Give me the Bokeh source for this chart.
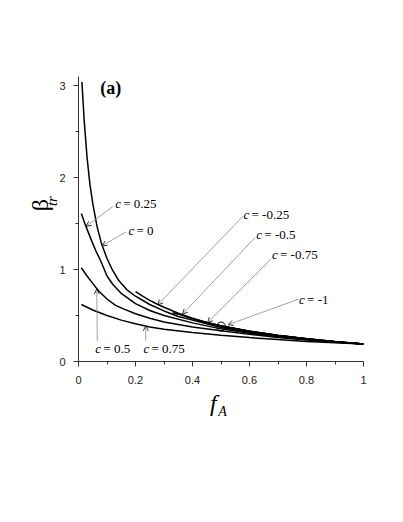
import numpy as np
from bokeh.plotting import figure
from bokeh.models import Label, Arrow, OpenHead, ColumnDataSource, FixedTicker, LinearAxis
from bokeh.embed import file_html
from bokeh.resources import INLINE

# ---- data ----
f_c0 = [0.012, 0.02, 0.03, 0.04, 0.05, 0.065, 0.08, 0.1, 0.12, 0.142, 0.17, 0.2, 0.25, 0.3, 0.35, 0.4, 0.5, 0.6, 0.7, 0.8, 0.9, 1.0]
b_c0 = [3.04, 2.62, 2.22, 1.93, 1.72, 1.47, 1.29, 1.12, 0.99, 0.877, 0.78, 0.71, 0.62, 0.55, 0.49, 0.45, 0.37, 0.317, 0.277, 0.244, 0.215, 0.19]

f_c025 = [0.01, 0.02, 0.03, 0.045, 0.06, 0.08, 0.1, 0.12, 0.15, 0.2, 0.25, 0.3, 0.4, 0.5, 0.6, 0.7, 0.8, 0.9, 1.0]
b_c025 = [1.61, 1.52, 1.44, 1.32, 1.21, 1.08, 0.93, 0.84, 0.74, 0.63, 0.555, 0.5, 0.42, 0.355, 0.308, 0.27, 0.24, 0.213, 0.19]

f_c05 = [0.01, 0.03, 0.05, 0.07, 0.1, 0.13, 0.16, 0.2, 0.25, 0.3, 0.4, 0.5, 0.6, 0.7, 0.8, 0.9, 1.0]
b_c05 = [1.02, 0.93, 0.85, 0.77, 0.68, 0.61, 0.57, 0.52, 0.47, 0.43, 0.375, 0.335, 0.295, 0.262, 0.234, 0.21, 0.19]

f_c075 = [0.01, 0.05, 0.1, 0.15, 0.2, 0.25, 0.3, 0.4, 0.5, 0.6, 0.7, 0.8, 0.9, 1.0]
b_c075 = [0.62, 0.56, 0.5, 0.45, 0.41, 0.375, 0.35, 0.315, 0.285, 0.26, 0.238, 0.218, 0.203, 0.19]

f_cm025 = [0.2, 0.225, 0.25, 0.275, 0.3, 0.35, 0.4, 0.45, 0.5, 0.6, 0.7, 0.8, 0.9, 1.0]
b_cm025 = [0.76, 0.71, 0.665, 0.625, 0.59, 0.525, 0.47, 0.425, 0.39, 0.33, 0.285, 0.248, 0.217, 0.19]

f_cm05 = [0.33, 0.35, 0.4, 0.45, 0.5, 0.6, 0.7, 0.8, 0.9, 1.0]
b_cm05 = [0.53, 0.515, 0.465, 0.422, 0.386, 0.328, 0.284, 0.247, 0.216, 0.19]

f_cm075 = [0.42, 0.45, 0.5, 0.6, 0.7, 0.8, 0.9, 1.0]
b_cm075 = [0.45, 0.425, 0.387, 0.328, 0.284, 0.247, 0.216, 0.19]

f_cm1 = [0.5, 0.6, 0.7, 0.8, 0.9, 1.0]
b_cm1 = [0.383, 0.328, 0.284, 0.247, 0.216, 0.19]

circle_f = [0.5]
circle_b = [0.38]

x_ticks = [0, 0.2, 0.4, 0.6, 0.8, 1.0]
x_tick_labels = ["0", "0.2", "0.4", "0.6", "0.8", "1"]
x_minor = [0.1, 0.3, 0.5, 0.7, 0.9]
y_ticks = [0, 1, 2, 3]
y_tick_labels = ["0", "1", "2", "3"]
y_minor = [0.5, 1.5, 2.5]

# annotation labels: text, label position, arrow tail, arrow tip
ann_text = ["= 0.25", "= 0", "= 0.5", "= 0.75", "= -0.25", "= -0.5", "= -0.75", "= -1"]
ann_lx = [0.129, 0.175, 0.059, 0.228, 0.579, 0.624, 0.679, 0.774]
ann_ly = [1.72, 1.42, 0.143, 0.143, 1.60, 1.385, 1.16, 0.678]
arr_x0 = [0.122, 0.167, 0.066, 0.236, 0.577, 0.620, 0.675, 0.772]
arr_y0 = [1.69, 1.41, 0.225, 0.225, 1.58, 1.35, 1.113, 0.678]
arr_x1 = [0.027, 0.083, 0.064, 0.236, 0.278, 0.365, 0.453, 0.525]
arr_y1 = [1.47, 1.26, 0.787, 0.388, 0.616, 0.515, 0.424, 0.40]

# axis-title pieces (anchor position along the title axes)
ytitle_main, ytitle_main_pos = "β", 1.70
ytitle_sub, ytitle_sub_pos = "tr", 1.745
xtitle_main, xtitle_main_pos = "f", 0.473
xtitle_sub, xtitle_sub_pos = "A", 0.505

SERIF = "Liberation Serif"
SANS = "Liberation Sans"

p = figure(width=395, height=514, output_backend="svg", toolbar_location=None,
           x_range=(0, 1), y_range=(0, 3.1),
           min_border_left=78, min_border_right=32, min_border_top=76, min_border_bottom=153)
p.outline_line_color = None
p.grid.visible = False
p.background_fill_color = "white"
p.border_fill_color = "white"

for ax in (p.xaxis[0], p.yaxis[0]):
    ax.axis_line_color = "#333333"
    ax.axis_line_width = 1
    ax.major_tick_line_color = "#333333"
    ax.minor_tick_line_color = "#333333"
    ax.major_tick_out = 5
    ax.major_tick_in = 0
    ax.minor_tick_out = 3
    ax.minor_tick_in = 0
    ax.major_label_text_font = SANS
    ax.major_label_text_font_size = "11px"
    ax.major_label_text_color = "#222222"

p.xaxis.ticker = FixedTicker(ticks=x_ticks, minor_ticks=x_minor)
p.yaxis.ticker = FixedTicker(ticks=y_ticks, minor_ticks=y_minor)
p.xaxis.major_label_overrides = {t: l for t, l in zip(x_ticks, x_tick_labels)}
p.yaxis.major_label_overrides = {t: l for t, l in zip(y_ticks, y_tick_labels)}
p.xaxis.major_label_standoff = 9
p.yaxis.major_label_standoff = 8


def title_axis(pos, txt, size, style, standoff, orientation):
    a = LinearAxis(ticker=FixedTicker(ticks=[pos]), major_label_overrides={pos: txt})
    a.axis_line_color = None
    a.major_tick_line_color = None
    a.minor_tick_line_color = None
    a.major_tick_out = 0
    a.major_tick_in = 0
    a.minor_tick_out = 0
    a.minor_tick_in = 0
    a.major_label_text_font = SERIF
    a.major_label_text_font_size = size
    a.major_label_text_font_style = style
    a.major_label_text_color = "black"
    a.major_label_standoff = standoff
    a.major_label_orientation = orientation
    return a


p.add_layout(title_axis(ytitle_sub_pos, ytitle_sub, "15px", "italic", -4, "parallel"), "left")
p.add_layout(title_axis(ytitle_main_pos, ytitle_main, "24px", "normal", -12, "parallel"), "left")
p.add_layout(title_axis(xtitle_main_pos, xtitle_main, "24px", "italic", 3, "horizontal"), "below")
p.add_layout(title_axis(xtitle_sub_pos, xtitle_sub, "14px", "italic", -15, "horizontal"), "below")

curves = [(f_c0, b_c0), (f_c025, b_c025), (f_c05, b_c05), (f_c075, b_c075),
          (f_cm025, b_cm025), (f_cm05, b_cm05), (f_cm075, b_cm075), (f_cm1, b_cm1)]
for fx, by in curves:
    p.line(fx, by, line_color="black", line_width=1.5)

p.scatter(circle_f, circle_b, marker="circle", size=9, fill_color=None,
          line_color="black", line_width=1)

src = ColumnDataSource(dict(x0=arr_x0, y0=arr_y0, x1=arr_x1, y1=arr_y1))
p.add_layout(Arrow(end=OpenHead(size=5, line_color="black", line_width=0.8),
                   x_start="x0", y_start="y0", x_end="x1", y_end="y1",
                   line_color="#888888", line_width=0.8, source=src))

for t, lx, ly in zip(ann_text, ann_lx, ann_ly):
    p.add_layout(Label(x=lx, y=ly, text="c", text_font=SERIF, text_font_style="italic",
                       text_color="black",
                       text_font_size="13px", text_baseline="middle", text_align="left"))
    p.add_layout(Label(x=lx, y=ly, x_offset=8, text=t, text_font=SERIF, text_color="black",
                       text_font_size="13px", text_baseline="middle", text_align="left"))

p.add_layout(Label(x=0.076, y=2.97, text="(a)", text_font=SERIF, text_font_style="bold",
                   text_color="black",
                   text_font_size="18px", text_baseline="middle", text_align="left"))

open("out.html", "w").write(file_html(p, INLINE))
